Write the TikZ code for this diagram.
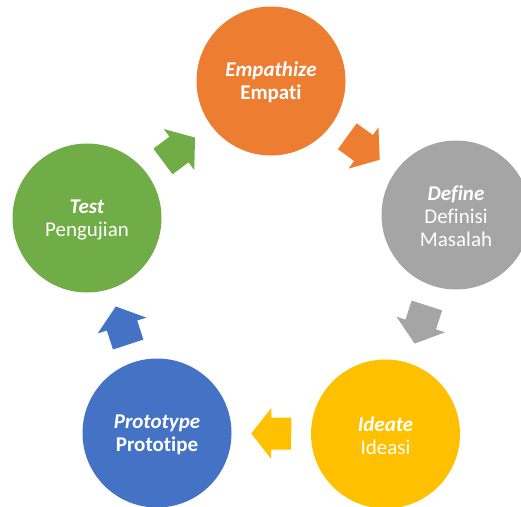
\documentclass[tikz,border=0pt]{standalone}
\usepackage{fontspec}
\setmainfont{Carlito}[Ligatures=NoCommon]
\usetikzlibrary{calc}
\definecolor{cOrange}{HTML}{ED7D31}
\definecolor{cGray}{HTML}{A5A5A5}
\definecolor{cGold}{HTML}{FFC000}
\definecolor{cBlue}{HTML}{4472C4}
\definecolor{cGreen}{HTML}{70AD47}
\newcommand\cyclearrow[3]{%
  \fill[#3] let \p1=($(#2)-(#1)$), \n1={atan2(\y1,\x1)}, \p2=($(#1)!0.5!(#2)$) in
    [shift={(\p2)}, rotate=\n1]
    (-20pt,16pt) -- (0pt,16pt) -- (0pt,25.5pt) -- (20pt,0pt) -- (0pt,-25.5pt) -- (0pt,-16pt) -- (-20pt,-16pt) -- cycle;}
\begin{document}
\begin{tikzpicture}[x=1pt,y=-1pt,
  circ/.style={circle, minimum size=149pt, inner sep=0pt, text=white, align=center,
    font=\fontsize{21}{23}\selectfont},
  lbl/.style={yshift=-1.5pt}]
\clip (0,0) rectangle (521,506);
\node[circ, fill=cOrange] (emp) at (271,81) {};
\node[circ, fill=cGray] (def) at (456,215) {};
\node[circ, fill=cGold] (ide) at (385.5,434) {};
\node[circ, fill=cBlue] (pro) at (157,433) {};
\node[circ, fill=cGreen] (tes) at (87,218) {};
\node[circ, lbl] (empt) at (emp) {\textbf{\textit{Empathize}}\\\textbf{Empati}};
\node[circ, lbl] (deft) at (def) {\textbf{\textit{Define}}\\Definisi\\Masalah};
\node[circ, lbl] (idet) at (ide) {\textbf{\textit{Ideate}}\\Ideasi};
\node[circ, lbl] (prot) at (pro) {\textbf{\textit{Prototype}}\\\textbf{Prototipe}};
\node[circ, lbl] (test) at (tes) {\textbf{\textit{Test}}\\Pengujian};
\cyclearrow{emp}{def}{cOrange}
\cyclearrow{def}{ide}{cGray}
\cyclearrow{ide}{pro}{cGold}
\cyclearrow{pro}{tes}{cBlue}
\cyclearrow{tes}{emp}{cGreen}
\end{tikzpicture}
\end{document}
